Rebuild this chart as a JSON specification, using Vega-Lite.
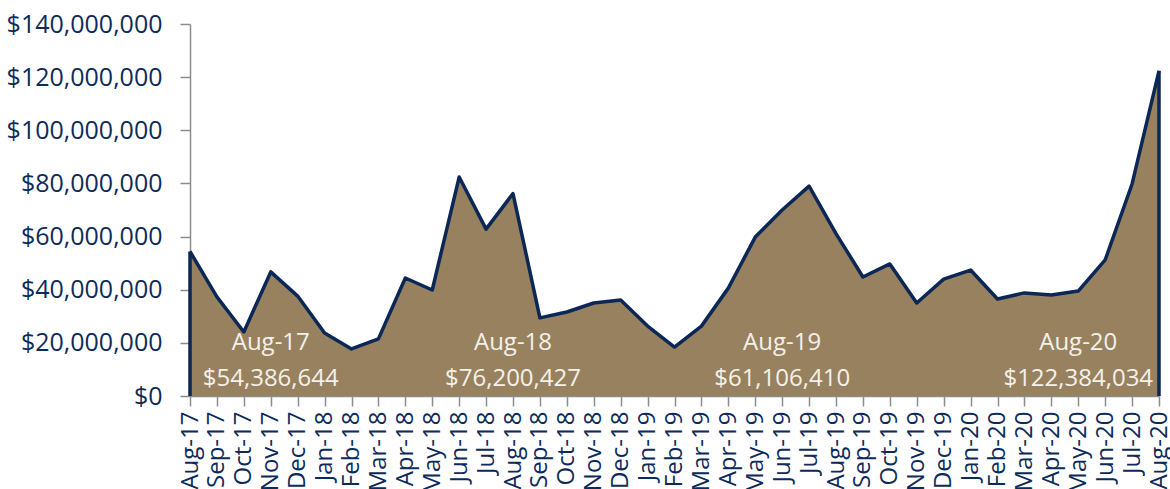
{
  "$schema": "https://vega.github.io/schema/vega-lite/v6.json",
  "autosize": {"type": "none"},
  "width": 969,
  "height": 372,
  "padding": {"left": 190, "top": 24, "right": 11, "bottom": 93},
  "background": "white",
  "config": {"view": {"stroke": null}, "font": "Open Sans"},
  "datasets": {
    "sales": [
      {"month": "Aug-17", "value": 54386644},
      {"month": "Sep-17", "value": 37300000},
      {"month": "Oct-17", "value": 24100000},
      {"month": "Nov-17", "value": 46700000},
      {"month": "Dec-17", "value": 37600000},
      {"month": "Jan-18", "value": 23700000},
      {"month": "Feb-18", "value": 17700000},
      {"month": "Mar-18", "value": 21500000},
      {"month": "Apr-18", "value": 44400000},
      {"month": "May-18", "value": 39900000},
      {"month": "Jun-18", "value": 82400000},
      {"month": "Jul-18", "value": 62800000},
      {"month": "Aug-18", "value": 76200427},
      {"month": "Sep-18", "value": 29400000},
      {"month": "Oct-18", "value": 31600000},
      {"month": "Nov-18", "value": 35000000},
      {"month": "Dec-18", "value": 36100000},
      {"month": "Jan-19", "value": 26300000},
      {"month": "Feb-19", "value": 18400000},
      {"month": "Mar-19", "value": 26300000},
      {"month": "Apr-19", "value": 40600000},
      {"month": "May-19", "value": 59800000},
      {"month": "Jun-19", "value": 70000000},
      {"month": "Jul-19", "value": 79000000},
      {"month": "Aug-19", "value": 61106410},
      {"month": "Sep-19", "value": 44800000},
      {"month": "Oct-19", "value": 49700000},
      {"month": "Nov-19", "value": 35000000},
      {"month": "Dec-19", "value": 44000000},
      {"month": "Jan-20", "value": 47400000},
      {"month": "Feb-20", "value": 36500000},
      {"month": "Mar-20", "value": 38800000},
      {"month": "Apr-20", "value": 38000000},
      {"month": "May-20", "value": 39500000},
      {"month": "Jun-20", "value": 51200000},
      {"month": "Jul-20", "value": 79800000},
      {"month": "Aug-20", "value": 122384034}
    ],
    "notes": [
      {"month": "Nov-17", "title": "Aug-17", "amount": "$54,386,644"},
      {"month": "Aug-18", "title": "Aug-18", "amount": "$76,200,427"},
      {"month": "Jun-19", "title": "Aug-19", "amount": "$61,106,410"},
      {"month": "May-20", "title": "Aug-20", "amount": "$122,384,034"}
    ]
  },
  "encoding": {
    "x": {
      "field": "month",
      "type": "ordinal",
      "sort": null,
      "scale": {"type": "point", "padding": 0},
      "axis": {
        "title": null,
        "labelAngle": -90,
        "labelFontSize": 24,
        "labelColor": "#0D2B5A",
        "labelPadding": 5,
        "tickColor": "#8C8C8C",
        "tickSize": 10,
        "tickWidth": 1.5,
        "domainColor": "#8C8C8C",
        "domainWidth": 1.5,
        "labelOverlap": false
      }
    }
  },
  "layer": [
    {
      "data": {"name": "sales"},
      "mark": {"type": "area", "color": "#98815F", "opacity": 1},
      "encoding": {
        "y": {
          "field": "value",
          "type": "quantitative",
          "scale": {"domain": [0, 140000000], "nice": false},
          "axis": {
            "title": null,
            "values": [0, 20000000, 40000000, 60000000, 80000000, 100000000, 120000000, 140000000],
            "format": "$,.0f",
            "grid": false,
            "labelFontSize": 25,
            "labelColor": "#0D2B5A",
            "labelPadding": 18,
            "tickColor": "#8C8C8C",
            "tickSize": 10,
            "tickWidth": 1.5,
            "domainColor": "#8C8C8C",
            "domainWidth": 1.5
          }
        }
      }
    },
    {
      "data": {"name": "sales"},
      "mark": {"type": "line", "color": "#0B2755", "strokeWidth": 3.5, "strokeJoin": "round"},
      "encoding": {"y": {"field": "value", "type": "quantitative"}}
    },
    {
      "data": {"name": "sales"},
      "transform": [{"filter": "datum.month === 'Aug-17' || datum.month === 'Aug-20'"}],
      "mark": {"type": "rule", "color": "#0B2755", "strokeWidth": 3.5},
      "encoding": {
        "y": {"field": "value", "type": "quantitative"},
        "y2": {"datum": 0}
      }
    },
    {
      "data": {"name": "notes"},
      "mark": {"type": "text", "color": "#F4F1EA", "fontSize": 24, "baseline": "middle", "align": "center"},
      "encoding": {
        "y": {"datum": 20000000},
        "text": {"field": "title"}
      }
    },
    {
      "data": {"name": "notes"},
      "mark": {"type": "text", "color": "#F4F1EA", "fontSize": 24, "baseline": "middle", "align": "center"},
      "encoding": {
        "y": {"datum": 6500000},
        "text": {"field": "amount"}
      }
    }
  ]
}
